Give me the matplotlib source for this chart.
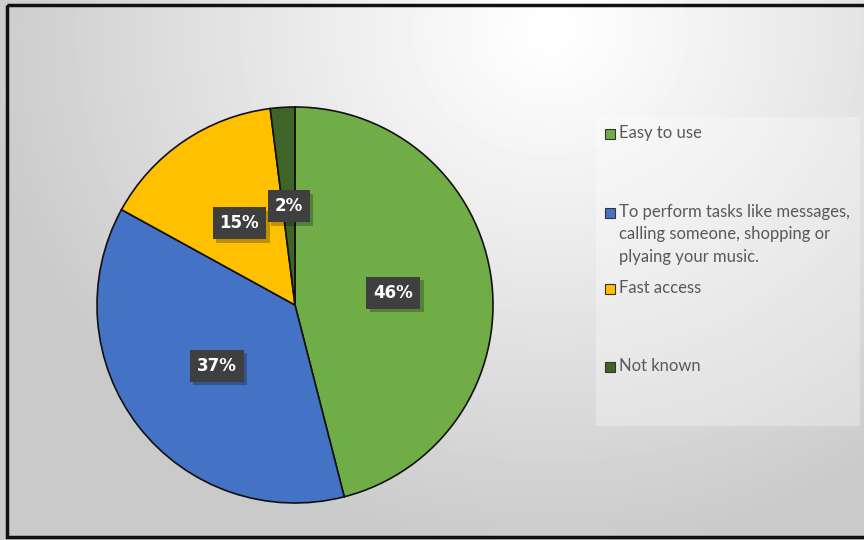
import numpy as np
import matplotlib
matplotlib.use("Agg")
import matplotlib.pyplot as plt
import matplotlib.patches as mpatches
import matplotlib.patheffects as pe

labels = [
    "Easy to use",
    "To perform tasks like messages,\ncalling someone, shopping or\nplyaing your music.",
    "Fast access",
    "Not known",
]
shares = [46, 37, 15, 2]
colors = ["#70AD47", "#4472C4", "#FFC000", "#3F6428"]

W, H = 864, 540
fig = plt.figure(figsize=(W / 100, H / 100), dpi=100)

# radial grey background
bg = fig.add_axes([0, 0, 1, 1], zorder=0)
yy, xx = np.mgrid[0:H, 0:W]
d = np.hypot(xx - 550, (yy - 30) * 1.1) / 580.0
shade = 1.0 - 0.21 * np.clip(d, 0, 1) ** 1.1
bg.imshow(shade, cmap="gray", vmin=0, vmax=1, extent=[0, W, H, 0], aspect="auto")
bg.set_xlim(0, W)
bg.set_ylim(H, 0)
bg.axis("off")

# border
bg.add_patch(mpatches.Rectangle((7, 5), W + 10, 532, fill=False, edgecolor="#111111", linewidth=2.5))

# legend panel
bg.add_patch(mpatches.Rectangle((596, 117), 264, 309, facecolor="white", alpha=0.3, edgecolor="none"))

# pie
cx, cy, r = 295, 305, 198
ax = fig.add_axes([(cx - r) / W, (H - cy - r) / H, 2 * r / W, 2 * r / H], zorder=1)
wedges, texts, autotexts = ax.pie(
    shares, colors=colors, startangle=90, counterclock=False,
    autopct="%d%%", pctdistance=0.5,
    wedgeprops=dict(edgecolor="#111111", linewidth=1.2),
    textprops=dict(color="white", fontsize=12, fontweight="bold", family="DejaVu Sans"),
)
ax.set_xlim(-1, 1)
ax.set_ylim(-1, 1)
ax.set_aspect("auto")
for t in autotexts:
    t.set_bbox(dict(boxstyle="square,pad=0.42", facecolor="#3F3F3F", edgecolor="none"))
    t.get_bbox_patch().set_path_effects([
        pe.withSimplePatchShadow(offset=(2.5, -2.5), shadow_rgbFace="black", alpha=0.25),
    ])

# legend entries
legend_y = [134, 213, 289, 367]
for lab, col, y in zip(labels, colors, legend_y):
    bg.add_patch(mpatches.Rectangle((605, y - 5), 10, 10, facecolor=col, edgecolor="#333333", linewidth=0.8))
    bg.text(619, y - 9, lab, fontsize=12, family="Lato", color="#595959",
            va="top", ha="left", linespacing=1.5)

fig.savefig("out.png", dpi=100)
